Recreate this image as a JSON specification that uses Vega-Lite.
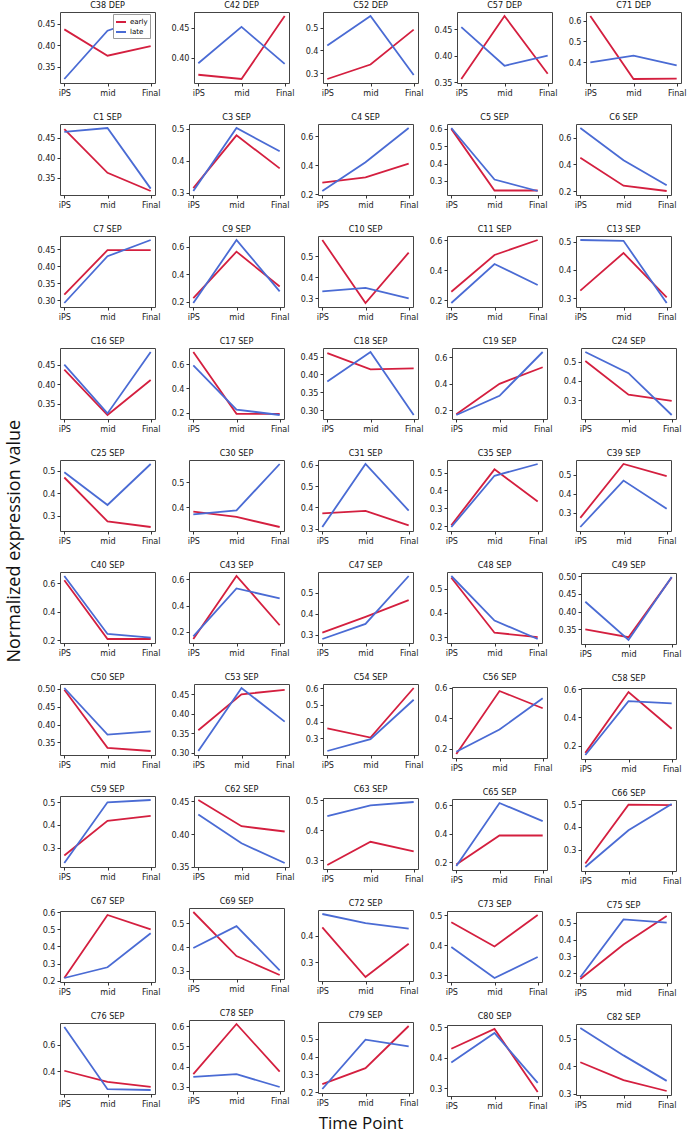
{
"$schema": "https://vega.github.io/schema/vega-lite/v6.json",
"background": "white",
"padding": {"left": 6, "top": 0, "right": 1, "bottom": 6},
"datasets": {"d": [
{"p":"C38 DEP","s":"early","t":"iPS","v":0.437},{"p":"C38 DEP","s":"early","t":"mid","v":0.376},{"p":"C38 DEP","s":"early","t":"Final","v":0.398},
{"p":"C38 DEP","s":"late","t":"iPS","v":0.322},{"p":"C38 DEP","s":"late","t":"mid","v":0.434},{"p":"C38 DEP","s":"late","t":"Final","v":0.468},
{"p":"C42 DEP","s":"early","t":"iPS","v":0.372},{"p":"C42 DEP","s":"early","t":"mid","v":0.365},{"p":"C42 DEP","s":"early","t":"Final","v":0.469},
{"p":"C42 DEP","s":"late","t":"iPS","v":0.391},{"p":"C42 DEP","s":"late","t":"mid","v":0.451},{"p":"C42 DEP","s":"late","t":"Final","v":0.390},
{"p":"C52 DEP","s":"early","t":"iPS","v":0.274},{"p":"C52 DEP","s":"early","t":"mid","v":0.338},{"p":"C52 DEP","s":"early","t":"Final","v":0.492},
{"p":"C52 DEP","s":"late","t":"iPS","v":0.422},{"p":"C52 DEP","s":"late","t":"mid","v":0.552},{"p":"C52 DEP","s":"late","t":"Final","v":0.292},
{"p":"C57 DEP","s":"early","t":"iPS","v":0.356},{"p":"C57 DEP","s":"early","t":"mid","v":0.475},{"p":"C57 DEP","s":"early","t":"Final","v":0.366},
{"p":"C57 DEP","s":"late","t":"iPS","v":0.454},{"p":"C57 DEP","s":"late","t":"mid","v":0.381},{"p":"C57 DEP","s":"late","t":"Final","v":0.400},
{"p":"C71 DEP","s":"early","t":"iPS","v":0.622},{"p":"C71 DEP","s":"early","t":"mid","v":0.320},{"p":"C71 DEP","s":"early","t":"Final","v":0.322},
{"p":"C71 DEP","s":"late","t":"iPS","v":0.400},{"p":"C71 DEP","s":"late","t":"mid","v":0.432},{"p":"C71 DEP","s":"late","t":"Final","v":0.385},
{"p":"C1 SEP","s":"early","t":"iPS","v":0.472},{"p":"C1 SEP","s":"early","t":"mid","v":0.362},{"p":"C1 SEP","s":"early","t":"Final","v":0.316},
{"p":"C1 SEP","s":"late","t":"iPS","v":0.465},{"p":"C1 SEP","s":"late","t":"mid","v":0.475},{"p":"C1 SEP","s":"late","t":"Final","v":0.322},
{"p":"C3 SEP","s":"early","t":"iPS","v":0.314},{"p":"C3 SEP","s":"early","t":"mid","v":0.480},{"p":"C3 SEP","s":"early","t":"Final","v":0.376},
{"p":"C3 SEP","s":"late","t":"iPS","v":0.305},{"p":"C3 SEP","s":"late","t":"mid","v":0.503},{"p":"C3 SEP","s":"late","t":"Final","v":0.430},
{"p":"C4 SEP","s":"early","t":"iPS","v":0.280},{"p":"C4 SEP","s":"early","t":"mid","v":0.316},{"p":"C4 SEP","s":"early","t":"Final","v":0.410},
{"p":"C4 SEP","s":"late","t":"iPS","v":0.222},{"p":"C4 SEP","s":"late","t":"mid","v":0.420},{"p":"C4 SEP","s":"late","t":"Final","v":0.655},
{"p":"C5 SEP","s":"early","t":"iPS","v":0.600},{"p":"C5 SEP","s":"early","t":"mid","v":0.245},{"p":"C5 SEP","s":"early","t":"Final","v":0.245},
{"p":"C5 SEP","s":"late","t":"iPS","v":0.605},{"p":"C5 SEP","s":"late","t":"mid","v":0.308},{"p":"C5 SEP","s":"late","t":"Final","v":0.242},
{"p":"C6 SEP","s":"early","t":"iPS","v":0.450},{"p":"C6 SEP","s":"early","t":"mid","v":0.240},{"p":"C6 SEP","s":"early","t":"Final","v":0.200},
{"p":"C6 SEP","s":"late","t":"iPS","v":0.672},{"p":"C6 SEP","s":"late","t":"mid","v":0.430},{"p":"C6 SEP","s":"late","t":"Final","v":0.243},
{"p":"C7 SEP","s":"early","t":"iPS","v":0.317},{"p":"C7 SEP","s":"early","t":"mid","v":0.448},{"p":"C7 SEP","s":"early","t":"Final","v":0.448},
{"p":"C7 SEP","s":"late","t":"iPS","v":0.292},{"p":"C7 SEP","s":"late","t":"mid","v":0.430},{"p":"C7 SEP","s":"late","t":"Final","v":0.478},
{"p":"C9 SEP","s":"early","t":"iPS","v":0.225},{"p":"C9 SEP","s":"early","t":"mid","v":0.565},{"p":"C9 SEP","s":"early","t":"Final","v":0.310},
{"p":"C9 SEP","s":"late","t":"iPS","v":0.190},{"p":"C9 SEP","s":"late","t":"mid","v":0.650},{"p":"C9 SEP","s":"late","t":"Final","v":0.275},
{"p":"C10 SEP","s":"early","t":"iPS","v":0.578},{"p":"C10 SEP","s":"early","t":"mid","v":0.278},{"p":"C10 SEP","s":"early","t":"Final","v":0.518},
{"p":"C10 SEP","s":"late","t":"iPS","v":0.333},{"p":"C10 SEP","s":"late","t":"mid","v":0.350},{"p":"C10 SEP","s":"late","t":"Final","v":0.300},
{"p":"C11 SEP","s":"early","t":"iPS","v":0.255},{"p":"C11 SEP","s":"early","t":"mid","v":0.500},{"p":"C11 SEP","s":"early","t":"Final","v":0.600},
{"p":"C11 SEP","s":"late","t":"iPS","v":0.180},{"p":"C11 SEP","s":"late","t":"mid","v":0.440},{"p":"C11 SEP","s":"late","t":"Final","v":0.300},
{"p":"C13 SEP","s":"early","t":"iPS","v":0.327},{"p":"C13 SEP","s":"early","t":"mid","v":0.460},{"p":"C13 SEP","s":"early","t":"Final","v":0.303},
{"p":"C13 SEP","s":"late","t":"iPS","v":0.506},{"p":"C13 SEP","s":"late","t":"mid","v":0.503},{"p":"C13 SEP","s":"late","t":"Final","v":0.283},
{"p":"C16 SEP","s":"early","t":"iPS","v":0.437},{"p":"C16 SEP","s":"early","t":"mid","v":0.322},{"p":"C16 SEP","s":"early","t":"Final","v":0.411},
{"p":"C16 SEP","s":"late","t":"iPS","v":0.450},{"p":"C16 SEP","s":"late","t":"mid","v":0.326},{"p":"C16 SEP","s":"late","t":"Final","v":0.482},
{"p":"C17 SEP","s":"early","t":"iPS","v":0.700},{"p":"C17 SEP","s":"early","t":"mid","v":0.190},{"p":"C17 SEP","s":"early","t":"Final","v":0.190},
{"p":"C17 SEP","s":"late","t":"iPS","v":0.590},{"p":"C17 SEP","s":"late","t":"mid","v":0.225},{"p":"C17 SEP","s":"late","t":"Final","v":0.180},
{"p":"C18 SEP","s":"early","t":"iPS","v":0.460},{"p":"C18 SEP","s":"early","t":"mid","v":0.414},{"p":"C18 SEP","s":"early","t":"Final","v":0.417},
{"p":"C18 SEP","s":"late","t":"iPS","v":0.380},{"p":"C18 SEP","s":"late","t":"mid","v":0.463},{"p":"C18 SEP","s":"late","t":"Final","v":0.286},
{"p":"C19 SEP","s":"early","t":"iPS","v":0.170},{"p":"C19 SEP","s":"early","t":"mid","v":0.400},{"p":"C19 SEP","s":"early","t":"Final","v":0.525},
{"p":"C19 SEP","s":"late","t":"iPS","v":0.165},{"p":"C19 SEP","s":"late","t":"mid","v":0.310},{"p":"C19 SEP","s":"late","t":"Final","v":0.640},
{"p":"C24 SEP","s":"early","t":"iPS","v":0.503},{"p":"C24 SEP","s":"early","t":"mid","v":0.328},{"p":"C24 SEP","s":"early","t":"Final","v":0.295},
{"p":"C24 SEP","s":"late","t":"iPS","v":0.550},{"p":"C24 SEP","s":"late","t":"mid","v":0.440},{"p":"C24 SEP","s":"late","t":"Final","v":0.222},
{"p":"C25 SEP","s":"early","t":"iPS","v":0.470},{"p":"C25 SEP","s":"early","t":"mid","v":0.275},{"p":"C25 SEP","s":"early","t":"Final","v":0.250},
{"p":"C25 SEP","s":"late","t":"iPS","v":0.493},{"p":"C25 SEP","s":"late","t":"mid","v":0.348},{"p":"C25 SEP","s":"late","t":"Final","v":0.530},
{"p":"C30 SEP","s":"early","t":"iPS","v":0.383},{"p":"C30 SEP","s":"early","t":"mid","v":0.362},{"p":"C30 SEP","s":"early","t":"Final","v":0.322},
{"p":"C30 SEP","s":"late","t":"iPS","v":0.372},{"p":"C30 SEP","s":"late","t":"mid","v":0.388},{"p":"C30 SEP","s":"late","t":"Final","v":0.572},
{"p":"C31 SEP","s":"early","t":"iPS","v":0.372},{"p":"C31 SEP","s":"early","t":"mid","v":0.384},{"p":"C31 SEP","s":"early","t":"Final","v":0.316},
{"p":"C31 SEP","s":"late","t":"iPS","v":0.308},{"p":"C31 SEP","s":"late","t":"mid","v":0.604},{"p":"C31 SEP","s":"late","t":"Final","v":0.385},
{"p":"C35 SEP","s":"early","t":"iPS","v":0.205},{"p":"C35 SEP","s":"early","t":"mid","v":0.518},{"p":"C35 SEP","s":"early","t":"Final","v":0.338},
{"p":"C35 SEP","s":"late","t":"iPS","v":0.195},{"p":"C35 SEP","s":"late","t":"mid","v":0.482},{"p":"C35 SEP","s":"late","t":"Final","v":0.548},
{"p":"C39 SEP","s":"early","t":"iPS","v":0.273},{"p":"C39 SEP","s":"early","t":"mid","v":0.555},{"p":"C39 SEP","s":"early","t":"Final","v":0.492},
{"p":"C39 SEP","s":"late","t":"iPS","v":0.225},{"p":"C39 SEP","s":"late","t":"mid","v":0.468},{"p":"C39 SEP","s":"late","t":"Final","v":0.320},
{"p":"C40 SEP","s":"early","t":"iPS","v":0.620},{"p":"C40 SEP","s":"early","t":"mid","v":0.210},{"p":"C40 SEP","s":"early","t":"Final","v":0.210},
{"p":"C40 SEP","s":"late","t":"iPS","v":0.650},{"p":"C40 SEP","s":"late","t":"mid","v":0.245},{"p":"C40 SEP","s":"late","t":"Final","v":0.220},
{"p":"C43 SEP","s":"early","t":"iPS","v":0.145},{"p":"C43 SEP","s":"early","t":"mid","v":0.625},{"p":"C43 SEP","s":"early","t":"Final","v":0.250},
{"p":"C43 SEP","s":"late","t":"iPS","v":0.165},{"p":"C43 SEP","s":"late","t":"mid","v":0.530},{"p":"C43 SEP","s":"late","t":"Final","v":0.455},
{"p":"C47 SEP","s":"early","t":"iPS","v":0.310},{"p":"C47 SEP","s":"early","t":"mid","v":0.385},{"p":"C47 SEP","s":"early","t":"Final","v":0.465},
{"p":"C47 SEP","s":"late","t":"iPS","v":0.280},{"p":"C47 SEP","s":"late","t":"mid","v":0.352},{"p":"C47 SEP","s":"late","t":"Final","v":0.580},
{"p":"C48 SEP","s":"early","t":"iPS","v":0.545},{"p":"C48 SEP","s":"early","t":"mid","v":0.318},{"p":"C48 SEP","s":"early","t":"Final","v":0.300},
{"p":"C48 SEP","s":"late","t":"iPS","v":0.552},{"p":"C48 SEP","s":"late","t":"mid","v":0.368},{"p":"C48 SEP","s":"late","t":"Final","v":0.292},
{"p":"C49 SEP","s":"early","t":"iPS","v":0.350},{"p":"C49 SEP","s":"early","t":"mid","v":0.328},{"p":"C49 SEP","s":"early","t":"Final","v":0.497},
{"p":"C49 SEP","s":"late","t":"iPS","v":0.428},{"p":"C49 SEP","s":"late","t":"mid","v":0.320},{"p":"C49 SEP","s":"late","t":"Final","v":0.498},
{"p":"C50 SEP","s":"early","t":"iPS","v":0.497},{"p":"C50 SEP","s":"early","t":"mid","v":0.335},{"p":"C50 SEP","s":"early","t":"Final","v":0.326},
{"p":"C50 SEP","s":"late","t":"iPS","v":0.502},{"p":"C50 SEP","s":"late","t":"mid","v":0.372},{"p":"C50 SEP","s":"late","t":"Final","v":0.381},
{"p":"C53 SEP","s":"early","t":"iPS","v":0.358},{"p":"C53 SEP","s":"early","t":"mid","v":0.450},{"p":"C53 SEP","s":"early","t":"Final","v":0.461},
{"p":"C53 SEP","s":"late","t":"iPS","v":0.305},{"p":"C53 SEP","s":"late","t":"mid","v":0.466},{"p":"C53 SEP","s":"late","t":"Final","v":0.380},
{"p":"C54 SEP","s":"early","t":"iPS","v":0.360},{"p":"C54 SEP","s":"early","t":"mid","v":0.305},{"p":"C54 SEP","s":"early","t":"Final","v":0.600},
{"p":"C54 SEP","s":"late","t":"iPS","v":0.225},{"p":"C54 SEP","s":"late","t":"mid","v":0.295},{"p":"C54 SEP","s":"late","t":"Final","v":0.530},
{"p":"C56 SEP","s":"early","t":"iPS","v":0.165},{"p":"C56 SEP","s":"early","t":"mid","v":0.578},{"p":"C56 SEP","s":"early","t":"Final","v":0.465},
{"p":"C56 SEP","s":"late","t":"iPS","v":0.180},{"p":"C56 SEP","s":"late","t":"mid","v":0.325},{"p":"C56 SEP","s":"late","t":"Final","v":0.530},
{"p":"C58 SEP","s":"early","t":"iPS","v":0.150},{"p":"C58 SEP","s":"early","t":"mid","v":0.580},{"p":"C58 SEP","s":"early","t":"Final","v":0.320},
{"p":"C58 SEP","s":"late","t":"iPS","v":0.135},{"p":"C58 SEP","s":"late","t":"mid","v":0.515},{"p":"C58 SEP","s":"late","t":"Final","v":0.500},
{"p":"C59 SEP","s":"early","t":"iPS","v":0.265},{"p":"C59 SEP","s":"early","t":"mid","v":0.418},{"p":"C59 SEP","s":"early","t":"Final","v":0.440},
{"p":"C59 SEP","s":"late","t":"iPS","v":0.232},{"p":"C59 SEP","s":"late","t":"mid","v":0.500},{"p":"C59 SEP","s":"late","t":"Final","v":0.510},
{"p":"C62 SEP","s":"early","t":"iPS","v":0.452},{"p":"C62 SEP","s":"early","t":"mid","v":0.412},{"p":"C62 SEP","s":"early","t":"Final","v":0.404},
{"p":"C62 SEP","s":"late","t":"iPS","v":0.430},{"p":"C62 SEP","s":"late","t":"mid","v":0.386},{"p":"C62 SEP","s":"late","t":"Final","v":0.356},
{"p":"C63 SEP","s":"early","t":"iPS","v":0.285},{"p":"C63 SEP","s":"early","t":"mid","v":0.362},{"p":"C63 SEP","s":"early","t":"Final","v":0.330},
{"p":"C63 SEP","s":"late","t":"iPS","v":0.447},{"p":"C63 SEP","s":"late","t":"mid","v":0.483},{"p":"C63 SEP","s":"late","t":"Final","v":0.494},
{"p":"C65 SEP","s":"early","t":"iPS","v":0.185},{"p":"C65 SEP","s":"early","t":"mid","v":0.388},{"p":"C65 SEP","s":"early","t":"Final","v":0.388},
{"p":"C65 SEP","s":"late","t":"iPS","v":0.175},{"p":"C65 SEP","s":"late","t":"mid","v":0.615},{"p":"C65 SEP","s":"late","t":"Final","v":0.488},
{"p":"C66 SEP","s":"early","t":"iPS","v":0.240},{"p":"C66 SEP","s":"early","t":"mid","v":0.497},{"p":"C66 SEP","s":"early","t":"Final","v":0.495},
{"p":"C66 SEP","s":"late","t":"iPS","v":0.225},{"p":"C66 SEP","s":"late","t":"mid","v":0.385},{"p":"C66 SEP","s":"late","t":"Final","v":0.500},
{"p":"C67 SEP","s":"early","t":"iPS","v":0.215},{"p":"C67 SEP","s":"early","t":"mid","v":0.585},{"p":"C67 SEP","s":"early","t":"Final","v":0.500},
{"p":"C67 SEP","s":"late","t":"iPS","v":0.215},{"p":"C67 SEP","s":"late","t":"mid","v":0.278},{"p":"C67 SEP","s":"late","t":"Final","v":0.478},
{"p":"C69 SEP","s":"early","t":"iPS","v":0.548},{"p":"C69 SEP","s":"early","t":"mid","v":0.362},{"p":"C69 SEP","s":"early","t":"Final","v":0.282},
{"p":"C69 SEP","s":"late","t":"iPS","v":0.396},{"p":"C69 SEP","s":"late","t":"mid","v":0.488},{"p":"C69 SEP","s":"late","t":"Final","v":0.302},
{"p":"C72 SEP","s":"early","t":"iPS","v":0.432},{"p":"C72 SEP","s":"early","t":"mid","v":0.245},{"p":"C72 SEP","s":"early","t":"Final","v":0.370},
{"p":"C72 SEP","s":"late","t":"iPS","v":0.482},{"p":"C72 SEP","s":"late","t":"mid","v":0.448},{"p":"C72 SEP","s":"late","t":"Final","v":0.427},
{"p":"C73 SEP","s":"early","t":"iPS","v":0.476},{"p":"C73 SEP","s":"early","t":"mid","v":0.395},{"p":"C73 SEP","s":"early","t":"Final","v":0.500},
{"p":"C73 SEP","s":"late","t":"iPS","v":0.393},{"p":"C73 SEP","s":"late","t":"mid","v":0.290},{"p":"C73 SEP","s":"late","t":"Final","v":0.360},
{"p":"C75 SEP","s":"early","t":"iPS","v":0.165},{"p":"C75 SEP","s":"early","t":"mid","v":0.370},{"p":"C75 SEP","s":"early","t":"Final","v":0.540},
{"p":"C75 SEP","s":"late","t":"iPS","v":0.175},{"p":"C75 SEP","s":"late","t":"mid","v":0.520},{"p":"C75 SEP","s":"late","t":"Final","v":0.500},
{"p":"C76 SEP","s":"early","t":"iPS","v":0.405},{"p":"C76 SEP","s":"early","t":"mid","v":0.323},{"p":"C76 SEP","s":"early","t":"Final","v":0.285},
{"p":"C76 SEP","s":"late","t":"iPS","v":0.730},{"p":"C76 SEP","s":"late","t":"mid","v":0.268},{"p":"C76 SEP","s":"late","t":"Final","v":0.262},
{"p":"C78 SEP","s":"early","t":"iPS","v":0.362},{"p":"C78 SEP","s":"early","t":"mid","v":0.612},{"p":"C78 SEP","s":"early","t":"Final","v":0.375},
{"p":"C78 SEP","s":"late","t":"iPS","v":0.348},{"p":"C78 SEP","s":"late","t":"mid","v":0.362},{"p":"C78 SEP","s":"late","t":"Final","v":0.298},
{"p":"C79 SEP","s":"early","t":"iPS","v":0.245},{"p":"C79 SEP","s":"early","t":"mid","v":0.335},{"p":"C79 SEP","s":"early","t":"Final","v":0.572},
{"p":"C79 SEP","s":"late","t":"iPS","v":0.218},{"p":"C79 SEP","s":"late","t":"mid","v":0.495},{"p":"C79 SEP","s":"late","t":"Final","v":0.458},
{"p":"C80 SEP","s":"early","t":"iPS","v":0.430},{"p":"C80 SEP","s":"early","t":"mid","v":0.495},{"p":"C80 SEP","s":"early","t":"Final","v":0.288},
{"p":"C80 SEP","s":"late","t":"iPS","v":0.385},{"p":"C80 SEP","s":"late","t":"mid","v":0.482},{"p":"C80 SEP","s":"late","t":"Final","v":0.318},
{"p":"C82 SEP","s":"early","t":"iPS","v":0.415},{"p":"C82 SEP","s":"early","t":"mid","v":0.350},{"p":"C82 SEP","s":"early","t":"Final","v":0.310},
{"p":"C82 SEP","s":"late","t":"iPS","v":0.540},{"p":"C82 SEP","s":"late","t":"mid","v":0.440},{"p":"C82 SEP","s":"late","t":"Final","v":0.347}
]},
"data": {"name": "d"},
"title": {"text": "Normalized expression value", "orient": "left", "anchor": "middle", "font": "Open Sans", "fontSize": 18, "fontWeight": "normal", "color": "#111", "offset": 12, "dx": 25},
"facet": {
  "field": "p", "type": "nominal",
  "sort": ["C38 DEP","C42 DEP","C52 DEP","C57 DEP","C71 DEP","C1 SEP","C3 SEP","C4 SEP","C5 SEP","C6 SEP","C7 SEP","C9 SEP","C10 SEP","C11 SEP","C13 SEP","C16 SEP","C17 SEP","C18 SEP","C19 SEP","C24 SEP","C25 SEP","C30 SEP","C31 SEP","C35 SEP","C39 SEP","C40 SEP","C43 SEP","C47 SEP","C48 SEP","C49 SEP","C50 SEP","C53 SEP","C54 SEP","C56 SEP","C58 SEP","C59 SEP","C62 SEP","C63 SEP","C65 SEP","C66 SEP","C67 SEP","C69 SEP","C72 SEP","C73 SEP","C75 SEP","C76 SEP","C78 SEP","C79 SEP","C80 SEP","C82 SEP"],
  "header": {"title": "Time Point", "titleOrient": "bottom", "titleFont": "Open Sans", "titleFontSize": 17, "titleFontWeight": "normal", "titleColor": "#111", "titlePadding": 5,
             "labelFont": "DejaVu Sans Condensed, DejaVu Sans", "labelFontSize": 9, "labelColor": "#111", "labelPadding": 2}
},
"columns": 5,
"spacing": {"row": 14, "column": 9},
"spec": {
  "width": 95,
  "height": 71,
  "mark": {"type": "line", "strokeWidth": 1.8},
  "encoding": {
    "x": {"field": "t", "type": "ordinal", "sort": ["iPS","mid","Final"], "scale": {"type": "point", "padding": 0.1}, "axis": {"title": null, "labelAngle": 0}},
    "y": {"field": "v", "type": "quantitative", "scale": {"zero": false, "nice": false, "padding": 4}, "axis": {"title": null, "tickCount": 3}},
    "color": {"field": "s", "type": "nominal", "scale": {"domain": ["early","late"], "range": ["#d41f3f","#4a6bd4"]},
      "legend": {"title": null, "orient": "none", "legendX": 53, "legendY": 2, "symbolType": "stroke", "symbolStrokeWidth": 2, "symbolSize": 100, "labelFontSize": 7, "labelFont": "DejaVu Sans", "strokeColor": "#999", "fillColor": "white", "padding": 2, "rowPadding": 0, "labelOffset": 3}}
  }
},
"resolve": {"scale": {"y": "independent"}, "axis": {"x": "independent"}},
"config": {
  "view": {"stroke": "#444", "strokeWidth": 1},
  "axis": {"grid": false, "domain": false, "tickColor": "#333", "tickSize": 3, "labelFont": "DejaVu Sans Condensed, DejaVu Sans", "labelFontSize": 9, "labelColor": "#222", "labelPadding": 2}
}
}
